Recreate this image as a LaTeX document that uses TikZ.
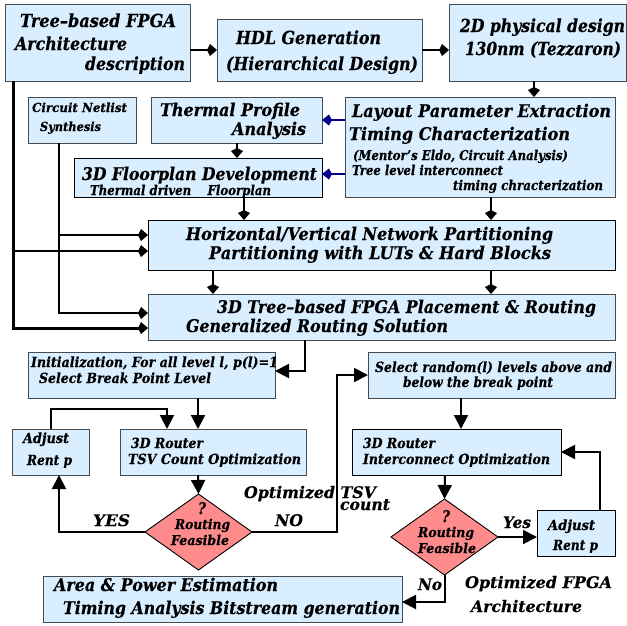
\documentclass[tikz,border=0pt]{standalone}
\usepackage{graphicx}
\usepackage{fontspec}
\setmainfont{DejaVu Serif}[BoldItalicFeatures={FakeBold=0.35}]
\usetikzlibrary{arrows.meta,shapes.geometric}
\definecolor{boxblue}{RGB}{217,238,255}
\definecolor{boxedge}{RGB}{70,75,80}
\definecolor{diared}{RGB}{255,140,140}
\definecolor{bluearrow}{RGB}{0,0,140}
% one line of text inside a box: page x, page baseline, width, text
\newcommand\TL[4]{\rlap{\kern\dimexpr#1pt-\Xa pt\relax\raisebox{\dimexpr\Yb pt-#2pt\relax}{\resizebox{#3pt}{\height}{#4}}}\ignorespaces}
% box: name, x1, y1, x2, y2, style, lines
\newcommand\FB[7]{\node[flowbox,#6,anchor=north west] (#1) at (#2,#3) {\def\Xa{#2}\def\Yb{#5}\hbox to \dimexpr#4pt-#2pt\relax{\vrule height\dimexpr#5pt-#3pt\relax width 0pt depth 0pt #7\hss}};}
\newcommand\DM[4]{\node[flowdia] (#1) at (#2,#3) {\def\Xa{#2}\def\Yb{#3}\smash{#4}};}
\newcommand\Fz[1]{\fontsize{#1}{#1}\selectfont\bfseries\itshape}
\tikzset{
  flowbox/.style={draw=boxedge,line width=1pt,fill=boxblue,inner sep=0pt,outer sep=0pt},
  blackedge/.style={draw=black},
  flowdia/.style={shape=diamond,draw=black,line width=0.9pt,fill=diared,inner sep=0pt,outer sep=0pt,minimum width=107pt,minimum height=76pt,font=\Fz{13.5}},
  flowlab/.style={anchor=base west,inner sep=0pt,outer sep=0pt},
  bigf/.style={font=\Fz{18}},
  midf/.style={font=\Fz{17.5}},
  smlf/.style={font=\Fz{14}},
  tinyf/.style={font=\Fz{12.5}},
  toparrow/.style={draw=black,line width=2.6pt,-{Kite[length=10pt,width=12pt,inset=3pt]}},
  bluelink/.style={draw=bluearrow,line width=2pt,-{Kite[length=10pt,width=11pt,inset=3pt]}},
  heavyline/.style={draw=black,line width=3pt,-{Kite[length=10pt,width=12pt,inset=3pt]}},
  flowarrow/.style={draw=black,line width=2pt,-{Triangle[length=14pt,width=14pt]}},
}
\begin{document}
\begin{tikzpicture}[x=1pt,y=-1pt]
\useasboundingbox (0,0) rectangle (627,625);
\foreach \v in {13,59,198,167,51,237,244,213,491,534,305,337,461,445,600}{\coordinate (v\v) at (\v,0);}
\foreach \h in {50,120,174,235,251,313,328,371,375,409,452,537,602}{\coordinate (h\h) at (0,\h);}

\FB{tree}{5}{4}{190}{81}{bigf}{\TL{20}{27}{156}{Tree–based FPGA}\TL{15}{50}{112}{Architecture}\TL{85}{70}{100}{description}}
\FB{hdl}{217}{19}{422}{81}{bigf}{\TL{236}{44}{145}{HDL Generation}\TL{226}{70}{192}{(Hierarchical Design)}}
\FB{phys}{449}{4}{626}{81}{bigf}{\TL{460}{32}{165}{2D physical design}\TL{465}{55}{156}{130nm (Tezzaron)}}
\FB{netlist}{28}{97}{136}{143}{tinyf}{\TL{32}{112}{95}{Circuit Netlist}\TL{40}{131}{61}{Synthesis}}
\FB{thermal}{151}{97}{322}{143}{midf}{\TL{160}{116}{140}{Thermal Profile}\TL{232}{135}{74}{Analysis}}
\FB{layout}{345}{97}{615}{197}{midf}{\TL{352}{117}{259}{Layout Parameter Extraction}\TL{349}{140}{221}{Timing Characterization}{\Fz{13.5}\TL{353}{160}{215}{(Mentor's Eldo, Circuit Analysis)}\TL{352}{175}{151}{Tree level interconnect}\TL{453}{190}{150}{timing chracterization}}}
\FB{floor}{74}{158}{322}{197}{midf,blackedge}{\TL{82}{180}{235}{3D Floorplan Development}{\Fz{13.5}\TL{90}{195}{181}{Thermal driven \ \ \ Floorplan}}}
\FB{part}{148}{220}{615}{270}{midf,blackedge}{\TL{186}{240}{367}{Horizontal/Vertical Network Partitioning}\TL{209}{259}{342}{Partitioning with LUTs \& Hard Blocks}}
\FB{place}{148}{294}{615}{340}{midf}{\TL{217}{313}{379}{3D Tree–based FPGA Placement \& Routing}\TL{186}{332}{262}{Generalized Routing Solution}}
\FB{init}{28}{352}{275}{398}{smlf}{\TL{31}{367}{247}{Initialization, For all level l, p(l)=1}\TL{39}{383}{172}{Select Break Point Level}}
\FB{sel}{368}{352}{615}{398}{smlf}{\TL{375}{372}{237}{Select random(l) levels above and}\TL{403}{387}{150}{below the break point}}
\FB{rentA}{12}{429}{89}{475}{smlf}{\TL{23}{443}{46}{Adjust}\TL{27}{465}{45}{Rent p}}
\FB{tsv}{120}{429}{306}{475}{smlf}{\TL{131}{448}{72}{3D Router}\TL{128}{464}{173}{TSV Count Optimization}}
\FB{inter}{352}{429}{561}{475}{smlf,blackedge}{\TL{363}{448}{72}{3D Router}\TL{363}{464}{187}{Interconnect Optimization}}
\FB{rentB}{537}{510}{615}{556}{smlf,blackedge}{\TL{548}{530}{47}{Adjust}\TL{553}{550}{45}{Rent p}}
\FB{area}{43}{576}{402}{622}{midf}{\TL{54}{591}{224}{Area \& Power Estimation}\TL{63}{614}{337}{Timing Analysis Bitstream generation}}
\DM{diaA}{198.5}{532}{{\Fz{16}\TL{198}{514}{8}{?}}\TL{175}{529}{55}{Routing}\TL{171}{545}{58}{Feasible}}
\DM{diaB}{444.5}{537}{{\Fz{16}\TL{442}{522}{8}{?}}\TL{418}{537}{56}{Routing}\TL{418}{553}{58}{Feasible}}

\node[flowlab,font=\Fz{16}] (lyes) at (93,526) {\resizebox{37pt}{\height}{YES}};
\node[flowlab,font=\Fz{16}] (lno) at (275,526) {\resizebox{28pt}{\height}{NO}};
\node[flowlab,font=\Fz{16}] (lyes2) at (503,528) {\resizebox{28pt}{\height}{Yes}};
\node[flowlab,font=\Fz{16}] (lno2) at (418,590) {\resizebox{24pt}{\height}{No}};
\node[flowlab,font=\Fz{16}] (opta) at (244,498) {\resizebox{132pt}{\height}{Optimized TSV}};
\node[flowlab,font=\Fz{16}] (optb) at (340,510) {\resizebox{50pt}{\height}{count}};
\node[flowlab,font=\Fz{16}] (optc) at (465,588) {\resizebox{147pt}{\height}{Optimized FPGA}};
\node[flowlab,font=\Fz{16}] (optd) at (471,612) {\resizebox{111pt}{\height}{Architecture}};

\draw[toparrow] (tree.east |- h50) -- (hdl.west |- h50);
\draw[toparrow] (hdl.east |- h50) -- (phys.west |- h50);
\draw[toparrow] (phys.south -| v534) -- (layout.north -| v534);
\draw[bluelink] (layout.west |- h120) -- (thermal.east |- h120);
\draw[bluelink] (layout.west |- h174) -- (floor.east |- h174);
\draw[toparrow] (thermal.south -| v237) -- (floor.north -| v237);
\draw[toparrow] (floor.south -| v244) -- (part.north -| v244);
\draw[toparrow] (layout.south -| v491) -- (part.north -| v491);
\draw[toparrow] (part.south -| v213) -- (place.north -| v213);
\draw[toparrow] (part.south -| v491) -- (place.north -| v491);
\draw[heavyline] (tree.south -| v13) |- (place.west |- h328);
\draw[toparrow] (v13 |- h251) -- (part.west |- h251);
\draw[toparrow] (netlist.south -| v59) |- (place.west |- h313);
\draw[toparrow] (v59 |- h235) -- (part.west |- h235);
\draw[flowarrow] (place.south -| v305) |- (init.east |- h371);
\draw[flowarrow] (init.south -| v198) -- (tsv.north -| v198);
\draw[flowarrow] (rentA.north -| v51) |- (h409 -| v167) -- (tsv.north -| v167);
\draw[flowarrow] (diaA.west) -| (rentA.south -| v59);
\draw[flowarrow] (tsv.south -| v198) -- (diaA.north);
\draw[flowarrow] (diaA.east) -| (v337 |- h375) -- (sel.west |- h375);
\draw[flowarrow] (sel.south -| v461) -- (inter.north -| v461);
\draw[flowarrow] (inter.south -| v445) -- (diaB.north);
\draw[flowarrow] (diaB.east) -- (rentB.west |- diaB.east);
\draw[flowarrow] (rentB.north -| v600) |- (inter.east |- h452);
\draw[flowarrow] (diaB.south) |- (area.east |- h602);
\end{tikzpicture}
\end{document}
